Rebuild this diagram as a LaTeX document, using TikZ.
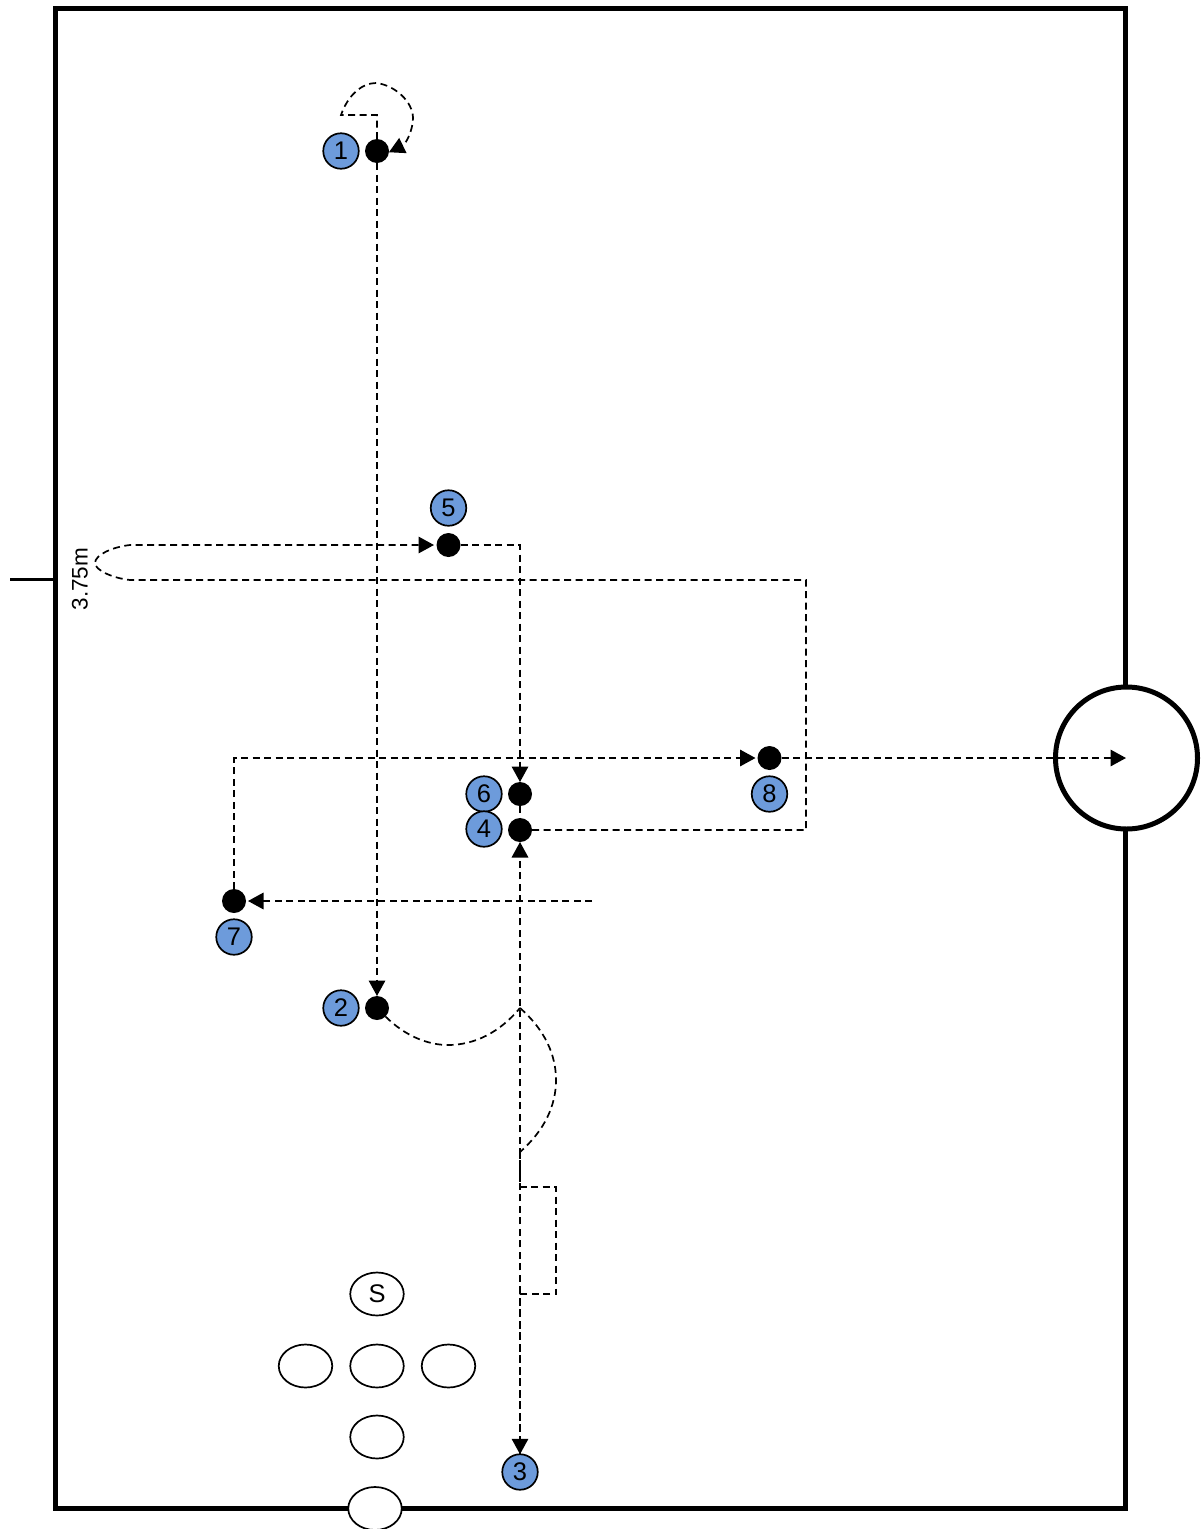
\documentclass[tikz,border=0pt]{standalone}
\usepackage{fontspec}
\setmainfont{Liberation Sans}
\usetikzlibrary{arrows.meta,shapes.geometric}
\definecolor{playerblue}{HTML}{6D9BDB}
\tikzset{
  dot/.style={circle,fill=black,inner sep=0pt,outer sep=0pt,minimum size=24pt},
  player/.style={circle,draw=black,line width=1.7pt,fill=playerblue,inner sep=0pt,outer sep=0pt,minimum size=35.5pt,font=\fontsize{25.5}{27}\selectfont},
  spot/.style={ellipse,draw=black,line width=1.7pt,fill=white,inner sep=0pt,outer sep=0pt,minimum width=53.5pt,minimum height=43pt,font=\fontsize{25.5}{27}\selectfont},
  run/.style={line width=1.7pt,dash pattern=on 7pt off 4.5pt,line join=miter},
  runarrow/.style={run,-{Triangle[length=15.5pt,width=16.5pt]}},
  court/.style={line width=5pt,line join=miter}
}
\begin{document}
\begin{tikzpicture}[x=1pt,y=-1pt]
\useasboundingbox (0,0) rectangle (1203,1529);
\fill[white] (0,0) rectangle (1203,1529);
% court
\draw[court] (55.5,8) rectangle (1125.5,1508);
\coordinate (tickA) at (10,579);
\coordinate (tickB) at (56,579);
\draw[line width=3pt] (tickA) -- (tickB);
\node[circle,draw=black,line width=5pt,fill=white,inner sep=0pt,outer sep=0pt,minimum size=142pt] (goal) at (1126.5,758) {};
\node[spot] (s0) at (377,1294) {S};
\node[spot] (s1) at (305.5,1366) {};
\node[spot] (s2) at (377,1366) {};
\node[spot] (s3) at (448.5,1366) {};
\node[spot] (s4) at (377,1437) {};
\node[spot] (s5) at (375,1508.5) {};
\node[rotate=90,font=\fontsize{22.5}{24}\selectfont] (dist) at (80,579) {3.75m};
% positions
\node[dot] (d1) at (377,151) {};
\node[dot] (d2) at (377,1008) {};
\node[dot] (d4) at (520,830) {};
\node[dot] (d5) at (448.5,545) {};
\node[dot] (d6) at (520,794) {};
\node[dot] (d7) at (234,901) {};
\node[dot] (d8) at (769.5,758) {};
\node[player] (p1) at (341,151) {1};
\node[player] (p2) at (341,1008) {2};
\node[player] (p3) at (520,1472) {3};
\node[player] (p6) at (484,794) {6};
\node[player] (p4) at (484,829) {4};
\node[player] (p5) at (448.5,508) {5};
\node[player] (p7) at (234,937) {7};
\node[player] (p8) at (769.5,794) {8};
% free ends
\coordinate (goalc) at (1126,758);
\coordinate (pass7) at (592,901);
\coordinate (a) at (520,1008);
\coordinate (b) at (520,1152);
% runs
\draw[runarrow] (d1.north) -- (377,115) -- (341,115)
  .. controls (348,95) and (362,83) .. (376,83)
  .. controls (395,85) and (413,102) .. (413,118)
  .. controls (413,130) and (406,144) .. (d1.-6);
\draw[runarrow] (d1) -- (d2);
\draw[run] (d2) .. controls (405,1036) and (428,1045) .. (448,1045)
  .. controls (475,1045) and (500,1032) .. (a);
\draw[run] (a) .. controls (545,1030) and (556,1055) .. (556,1080)
  .. controls (556,1105) and (545,1130) .. (b);
\draw[runarrow] (b) -- (520,1187) -- (556,1187) -- (556,1294) -- (520,1294) -- (p3);
\draw[runarrow] (p3) -- (d4);
\draw[runarrow,shorten >=2.5pt] (d4) -- (806,830) -- (806,580) -- (130,580)
  .. controls (112,578) and (95,570) .. (95,563)
  .. controls (95,555) and (112,547) .. (130,545) -- (d5);
\draw[runarrow] (d5.east) -- (520,545) -- (d6);
\draw[run] (d6) -- (d4);
\draw[runarrow,shorten >=2pt] (d7) -- (234,758) -- (d8);
\draw[runarrow] (d8) -- (goalc);
\draw[runarrow,shorten >=2pt] (pass7) -- (d7);
\end{tikzpicture}
\end{document}
